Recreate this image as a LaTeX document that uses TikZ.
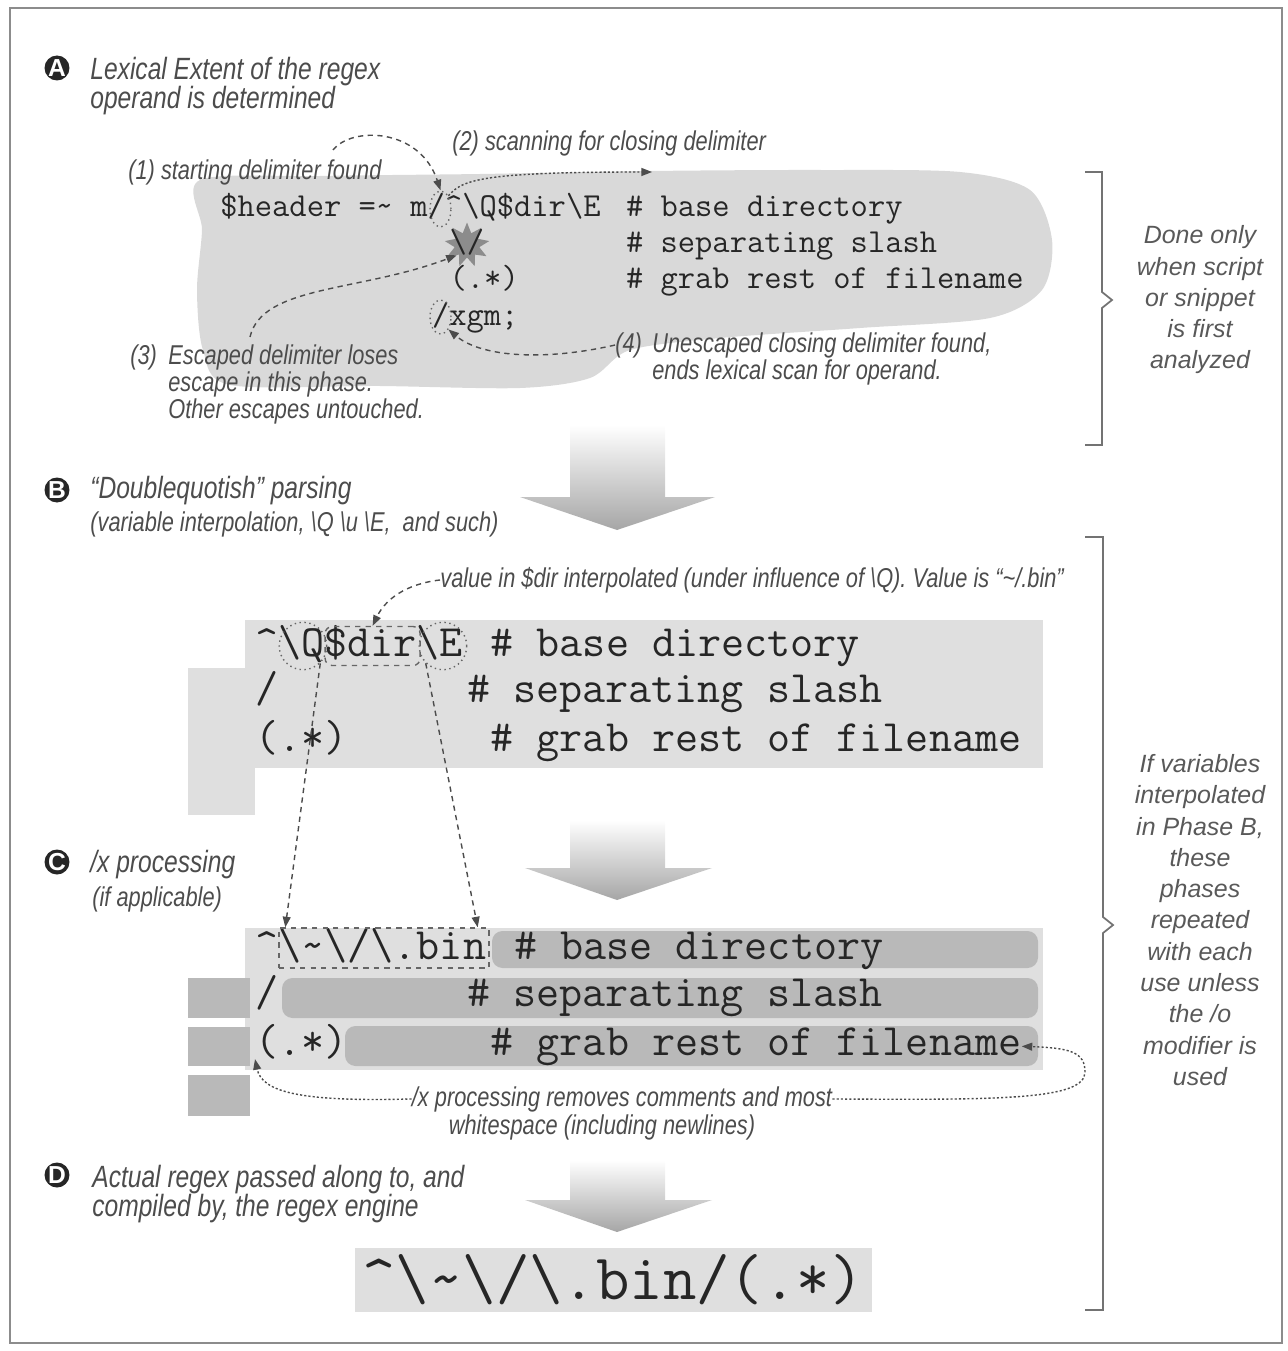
\documentclass[tikz,border=0pt]{standalone}
\usepackage{fontspec}
\usepackage{tikz}
\usetikzlibrary{shapes.geometric,arrows.meta,calc}
\setmainfont{Liberation Sans}
\newfontfamily\lblfont[FakeStretch=0.8]{Liberation Sans}
\newcommand{\bsl}{\textbackslash}
\newcommand{\crt}{\textasciicircum}
\newcommand{\tld}{\textasciitilde}

\tikzset{
  lbl/.style={font=\lblfont\itshape\fontsize{15.5}{15.5}\selectfont,text=black!70,inner sep=0pt},
  ttl/.style={font=\lblfont\itshape\fontsize{17.5}{16.5}\selectfont,text=black!70,inner sep=0pt,align=left},
  sidenote/.style={font=\itshape\fontsize{14.2}{17.8}\selectfont,text=black!65,align=center,inner sep=0pt},
  codeA/.style={font=\ttfamily\fontsize{19.1}{22}\selectfont,text=black!85,anchor=base west,inner sep=0pt},
  codeB/.style={font=\ttfamily\fontsize{25.5}{28}\selectfont,text=black!85,anchor=base west,inner sep=0pt},
  badge/.style={circle,fill=black!85,text=white,font=\bfseries\fontsize{14}{14}\selectfont,inner sep=0pt,minimum size=0.5cm},
  hint/.style={black!70,line width=0.8pt,dash pattern=on 3pt off 2.5pt,-{Triangle[length=6pt,width=4.5pt]}},
  hintdot/.style={hint,dash pattern=on 1.2pt off 1.2pt},
  ring/.style={draw=black!60,dotted,thick,ellipse,inner sep=0pt},
  bracepath/.style={black!55,line width=1pt},
  bigarrow/.style={top color=white,bottom color=black!35,draw=none}
}

\begin{document}
\begin{tikzpicture}[x=0.02cm,y=-0.02cm]
\useasboundingbox (0,0) rectangle (1287,1351);
\draw[black!45,line width=1pt] (10,8) rectangle (1282,1343);

% phase A
\node[badge] (bA) at (57,68) {A};
\node[ttl,anchor=north west] (tA) at (90,57) {Lexical Extent of the regex\\operand is determined};
\fill[gray!30] plot[smooth cycle,tension=0.5] coordinates {(200,180) (320,176) (480,174) (650,171) (820,170) (960,172) (1030,190) (1052,240) (1042,290) (990,318) (860,328) (720,338) (630,350) (590,378) (520,388) (380,386) (230,385) (203,350) (197,290) (202,230)};
\node[star,star points=9,star point ratio=1.8,fill=black!45,minimum size=0.9cm,inner sep=0pt] (burst) at (467,245) {};
\node[codeA] (a1) at (220,217) {\$header =\tld{} m/\crt\bsl Q\$dir\bsl E};
\node[codeA] (a1c) at (625.7,217) {\# base directory};
\node[codeA] (a2) at (449.3,253) {\bsl/};
\node[codeA] (a2c) at (625.7,253) {\# separating slash};
\node[codeA] (a3) at (449.3,289) {(.*)};
\node[codeA] (a3c) at (625.7,289) {\# grab rest of filename};
\node[codeA] (a4) at (431.7,325) {/xgm;};
\node[ring,minimum width=0.42cm,minimum height=0.72cm] (open) at (440.5,209) {};
\node[ring,minimum width=0.42cm,minimum height=0.68cm] (close) at (440.5,317) {};
\node[lbl,anchor=west] (l1) at (128,172) {(1) starting delimiter found};
\node[lbl,anchor=west] (l2) at (452,143) {(2) scanning for closing delimiter};
\node[lbl,anchor=north west] (l3n) at (130,344) {(3)};
\node[lbl,anchor=north west,align=left] (l3) at (168,344) {Escaped delimiter loses\\escape in this phase.\\Other escapes untouched.};
\node[lbl,anchor=north west] (l4n) at (615,332) {(4)};
\node[lbl,anchor=north west,align=left] (l4) at (652,332) {Unescaped closing delimiter found,\\ends lexical scan for operand.};
\coordinate (s1) at (333,150);
\coordinate (e2) at (652,172);
\coordinate (s3) at (250,337);
\draw[hint] (s1) .. controls (352,126) and (420,128) .. (open.north);
\draw[hintdot] (open.north east) .. controls (462,180) and (480,172) .. (e2);
\draw[hint] (s3) .. controls (262,285) and (360,292) .. (burst.south west);
\draw[hint] (l4n.west) .. controls (540,362) and (480,356) .. (close.south east);
\draw[bracepath] (1085,172) -- (1102,172) -- (1102,292) -- (1112,300) -- (1102,308) -- (1102,445) -- (1085,445);
\node[sidenote] (sA) at (1200,300) {Done only\\when script\\or snippet\\is first\\analyzed};
\shade[bigarrow] (570,425) -- (665,425) -- (665,497) -- (715,497) -- (617,530) -- (520,497) -- (570,497) -- cycle;

% phase B
\node[badge] (bB) at (57,490) {B};
\node[ttl,anchor=west] (tB) at (90,491) {“Doublequotish” parsing};
\node[lbl,anchor=west] (sB) at (90,524) {(variable interpolation, \bsl Q \bsl u \bsl E,\ \ and such)};
\fill[gray!25] (188,668) rectangle (255,815);
\fill[gray!25] (245,620) rectangle (1043,768);
\node[codeB] (b1) at (255,656) {\crt\bsl Q\$dir\bsl E};
\node[codeB] (b1c) at (490.3,656) {\# base directory};
\node[codeB] (b2) at (255,702) {/};
\node[codeB] (b2c) at (466.8,702) {\# separating slash};
\node[codeB] (b3) at (255,751) {(.*)};
\node[codeB] (b3c) at (490.3,751) {\# grab rest of filename};
\node[ring,minimum width=0.95cm,minimum height=0.95cm] (qring) at (303,646) {};
\node[draw=black!60,dashed,thick,rounded corners=4pt,minimum width=1.9cm,minimum height=0.78cm,inner sep=0pt] (dirbox) at (372.6,646) {};
\node[ring,minimum width=0.95cm,minimum height=0.95cm] (ering) at (443,646) {};
\node[lbl,anchor=west] (lv) at (440,580) {value in \$dir interpolated (under influence of \bsl Q). Value is “\tld/.bin”};
\draw[hint] (lv.west) .. controls (405,584) and (385,600) .. (dirbox.north);
\draw[bracepath] (1085,537) -- (1103,537) -- (1103,917) -- (1113,925) -- (1103,933) -- (1103,1310) -- (1085,1310);
\node[sidenote] (sB2) at (1200,920) {If variables\\interpolated\\in Phase B,\\these\\phases\\repeated\\with each\\use unless\\the /o\\modifier is\\used};
\shade[bigarrow] (570,820) -- (665,820) -- (665,868) -- (712,868) -- (617,900) -- (525,868) -- (570,868) -- cycle;

% phase C
\node[badge] (bC) at (57,862) {C};
\node[ttl,anchor=west] (tC) at (90,865) {/x processing};
\node[lbl,anchor=west] (sC) at (92,899) {(if applicable)};
\fill[gray!25] (245,928) rectangle (1043,1070);
\fill[gray!55,rounded corners=6] (492,931) rectangle (1038,968);
\fill[gray!55,rounded corners=6] (282,978) rectangle (1038,1018);
\fill[gray!55,rounded corners=6] (345,1026) rectangle (1038,1066);
\fill[gray!55] (188,978) rectangle (250,1018);
\fill[gray!55] (188,1027) rectangle (250,1066);
\fill[gray!55] (188,1075) rectangle (250,1116);
\node[codeB] (c1) at (255,959) {\crt\bsl\tld\bsl/\bsl.bin};
\node[codeB] (c1c) at (513.8,959) {\# base directory};
\node[codeB] (c2) at (255,1006) {/};
\node[codeB] (c2c) at (466.8,1006) {\# separating slash};
\node[codeB] (c3) at (255,1055) {(.*)};
\node[codeB] (c3c) at (490.3,1055) {\# grab rest of filename};
\node[draw=black!60,dashed,thick,minimum width=4.2cm,minimum height=0.8cm,inner sep=0pt] (cbin) at (384,948) {};
\draw[hint] (qring.south east) -- ($(cbin.north west)+(7,0)$);
\draw[hint] (ering.south west) -- ($(cbin.north east)+(-12,0)$);
\node[lbl,anchor=base] (x1) at (622,1106) {/x processing removes comments and most};
\node[lbl,anchor=base] (x2) at (602,1134) {whitespace (including newlines)};
\coordinate (bend) at (1085,1072);
\draw[hintdot] (x1.east) .. controls (1000,1100) and (1085,1100) .. (bend) .. controls (1085,1052) and (1070,1048) .. (c3c.east);
\draw[hintdot] (x1.west) .. controls (300,1102) and (262,1092) .. (c3.south west);
\shade[bigarrow] (570,1160) -- (665,1160) -- (665,1200) -- (712,1200) -- (617,1232) -- (525,1200) -- (570,1200) -- cycle;

% phase D
\node[badge] (bD) at (57,1175) {D};
\node[ttl,anchor=north west] (tD) at (92,1165) {Actual regex passed along to, and\\compiled by, the regex engine};
\fill[gray!25] (355,1248) rectangle (872,1312);
\node[font=\ttfamily\fontsize{36.9}{40}\selectfont,text=black!85,inner sep=0pt] (final) at (613,1280) {\crt\bsl\tld\bsl/\bsl.bin/(.*)};
\end{tikzpicture}
\end{document}
